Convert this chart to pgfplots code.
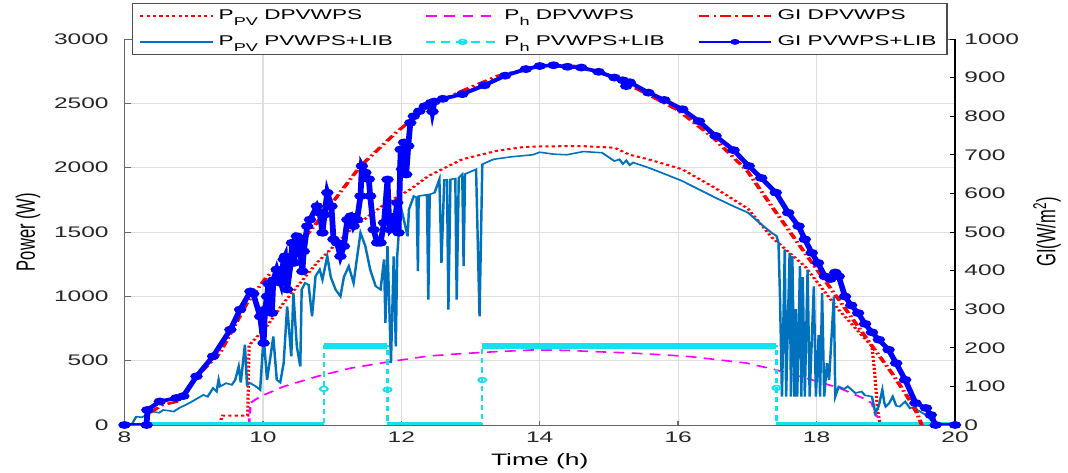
\documentclass[border=0pt]{standalone}
\usepackage{pgfplots}
\pgfplotsset{compat=1.18}
\usepackage{fontspec}
\setmainfont{Liberation Sans}
\definecolor{pvblue}{RGB}{0,114,189}
\definecolor{cyanc}{RGB}{20,225,235}
\definecolor{magc}{RGB}{255,0,255}
\definecolor{gridc}{RGB}{222,222,222}
\newcommand\lsub[1]{\raisebox{-0.42em}{\fontsize{8.5}{8.5}\selectfont #1}}
\pgfplotsset{
 ppvd/.style={red, line width=1.5pt, dash pattern=on 1.5pt off 1.5pt},
 phd/.style={magc, line width=1.2pt, dash pattern=on 5pt off 3.5pt},
 gid/.style={red, line width=1.9pt, dash pattern=on 5pt off 2pt on 1.2pt off 2pt},
 ppvl/.style={pvblue, line width=1.15pt},
 phl/.style={cyanc, line width=1.1pt, dash pattern=on 4pt off 3pt, mark=o, mark size=1.8pt, mark options={solid}},
 gil/.style={blue, line width=2.7pt, mark=*, mark size=1.5pt, mark options={solid}},
}
\begin{document}
\begin{tikzpicture}
\begin{scope}[transform canvas={xscale=1.6}]
\begin{axis}[
 scale only axis, width=389.3pt, height=289.5pt,
 xmin=8, xmax=20, ymin=0, ymax=3000,
 xtick={8,10,...,20}, ytick={0,500,...,3000},
 xtick pos=left, ytick pos=left, tick align=inside,
 major tick length=3pt,
 grid=major, major grid style={gridc, line width=0.6pt},
 axis line style={black!60, line width=0.7pt},
 tick style={black!60, line width=0.7pt},
 ticklabel style={font=\fontsize{11.5}{13}\selectfont, text=black!85},
 /pgf/number format/assume math mode=true, /pgf/number format/1000 sep={},
 yticklabel style={xshift=-3.9pt},
 xticklabel style={yshift=-1.5pt},
 xlabel={Time (h)}, ylabel={Power (W)},
 label style={font=\fontsize{12.4}{14}\selectfont},
 xlabel style={at={(axis description cs:0.5,-0.0933)}, anchor=center},
 ylabel style={at={(axis description cs:-0.1162,0.5)}, anchor=center},
]
% P_PV DPVWPS
\addplot[ppvd] coordinates {(8.0,0)(9.36,0)(9.42,73)(9.78,73)(9.8,620)(10.06,770)(10.3,950)(10.78,1260)(11.27,1519)(11.75,1714)(12.13,1831)(12.39,1935)(12.88,2065)(13.37,2130)(13.76,2160)(14.0,2165)(14.6,2168)(15.08,2155)(15.3,2100)(15.57,2065)(16.06,1987)(16.54,1840)(17.01,1680)(17.35,1460)(17.83,1234)(18.32,896)(18.71,663)(18.8,615)(18.84,400)(18.88,120)(18.92,0)(20,0)};
% P_h DPVWPS
\addplot[phd] coordinates {(9.8,0)(9.82,172)(9.96,221)(10.3,299)(10.78,377)(11.27,442)(11.85,494)(12.39,536)(12.88,555)(13.37,570)(13.9,583)(14.4,580)(14.8,570)(15.3,560)(15.83,544)(16.2,530)(16.98,482)(17.41,429)(17.85,364)(18.33,287)(18.67,209)(18.8,170)(18.85,79)(18.89,60)(18.9,0)};
% P_PV PVWPS+LIB
\addplot[ppvl] coordinates {(8.0,0)(8.1,0)(8.17,65)(8.25,60)(8.32,78)(8.41,104)(8.5,95)(8.56,117)(8.65,110)(8.71,104)(8.8,135)(8.9,160)(9.0,190)(9.14,234)(9.2,220)(9.28,286)(9.33,260)(9.36,351)(9.38,299)(9.47,325)(9.55,312)(9.6,350)(9.65,455)(9.68,330)(9.74,624)(9.77,312)(9.82,325)(9.9,299)(9.96,273)(10.01,688)(10.06,351)(10.11,533)(10.15,688)(10.2,351)(10.25,330)(10.3,481)(10.35,922)(10.41,533)(10.44,1026)(10.49,611)(10.54,455)(10.56,1052)(10.61,1104)(10.66,1090)(10.71,844)(10.76,1156)(10.82,1208)(10.86,1130)(10.93,1311)(10.98,1150)(11.05,1052)(11.12,1000)(11.17,1150)(11.24,1234)(11.31,1104)(11.41,1494)(11.48,1390)(11.55,1208)(11.63,1078)(11.7,1052)(11.75,1286)(11.77,793)(11.8,1390)(11.85,481)(11.89,1311)(11.92,611)(11.94,1311)(11.99,1701)(12.03,1610)(12.09,1467)(12.11,1675)(12.18,1779)(12.22,1770)(12.24,1195)(12.25,1779)(12.37,1790)(12.39,974)(12.41,1792)(12.48,1805)(12.55,1909)(12.58,1260)(12.62,1905)(12.66,1905)(12.68,896)(12.71,1909)(12.78,1915)(12.8,974)(12.83,1922)(12.88,1948)(12.9,1234)(12.92,1950)(13.08,1987)(13.13,844)(13.17,2026)(13.33,2065)(13.6,2085)(13.9,2100)(14.0,2120)(14.2,2105)(14.39,2100)(14.63,2125)(14.9,2116)(15.08,2051)(15.15,2065)(15.2,2030)(15.25,2055)(15.3,2020)(15.35,2040)(15.57,2000)(15.81,1950)(16.06,1896)(16.3,1831)(16.54,1766)(16.8,1700)(17.01,1650)(17.2,1560)(17.35,1494)(17.42,1470)(17.45,1415)(17.47,1026)(17.5,221)(17.54,1364)(17.56,221)(17.61,1338)(17.63,221)(17.65,1312)(17.68,221)(17.7,900)(17.72,221)(17.76,1234)(17.78,221)(17.8,1150)(17.83,221)(17.87,1208)(17.9,221)(17.96,1078)(17.99,221)(18.03,700)(18.05,221)(18.08,1026)(18.11,221)(18.15,480)(18.18,350)(18.25,1000)(18.27,221)(18.32,299)(18.4,280)(18.45,300)(18.56,248)(18.65,260)(18.7,230)(18.8,221)(18.85,92)(18.9,150)(18.95,273)(18.98,170)(19.0,143)(19.05,170)(19.1,221)(19.15,150)(19.2,143)(19.28,182)(19.35,130)(19.42,143)(19.45,118)(19.58,78)(19.65,39)(19.7,13)(19.75,0)(20,0)};
% P_h PVWPS+LIB : band made by dense markers
\addplot[cyanc, line width=5pt, forget plot, unbounded coords=jump] coordinates {(8.33,0)(10.88,0)(10.88,nan)(10.88,615)(11.8,615)(11.8,nan)(11.8,0)(13.17,0)(13.17,nan)(13.17,615)(17.42,615)(17.42,nan)(17.42,0)(20,0)};
\addplot[phl, mark indices={3,6,9,12}, forget plot] coordinates {(8.33,0)(10.88,0)(10.88,280)(10.88,615)(11.8,615)(11.8,275)(11.8,0)(13.17,0)(13.17,350)(13.17,615)(17.42,615)(17.42,288)(17.42,0)(20,0)};
\end{axis}
\begin{axis}[
 scale only axis, width=389.3pt, height=289.5pt,
 xmin=8, xmax=20, ymin=0, ymax=1000,
 axis x line=none, axis y line*=right,
 ytick={0,100,...,1000}, tick align=inside, major tick length=2.5pt,
 axis line style={black, line width=0.7pt},
 tick style={black, line width=0.7pt},
 ticklabel style={font=\fontsize{11.5}{13}\selectfont, text=black!85},
 /pgf/number format/assume math mode=true, /pgf/number format/1000 sep={},
 yticklabel style={xshift=0.9pt},
 ylabel={GI(W/m\textsuperscript{2})},
 label style={font=\fontsize{12.4}{14}\selectfont},
 ylabel style={at={(axis description cs:1.1108,0.5)}, anchor=center},
 legend columns=3,
 legend cell align=left,
 legend image code/.code={\draw[mark repeat=2,mark phase=2,#1] plot coordinates {(0pt,0pt) (17pt,0pt) (34pt,0pt)};},
 legend style={at={(axis description cs:0.5,1.026)}, anchor=center, draw=black!70, line width=0.7pt, fill=white,
   font=\fontsize{10.6}{12}\selectfont, inner sep=3pt, row sep=6.5pt,
   /tikz/every even column/.append style={column sep=13pt}},
]
\addlegendimage{ppvd}
\addlegendentry{P\lsub{PV} DPVWPS}
\addlegendimage{phd}
\addlegendentry{P\lsub{h} DPVWPS}
% GI DPVWPS
\addplot[gid] coordinates {(8.3,0)(8.35,30)(8.55,52)(8.75,60)(8.9,85)(9.0,117)(9.38,187)(9.77,316)(10.06,385)(10.3,420)(10.78,524)(11.41,671)(11.92,757)(12.13,788)(12.4,827)(12.88,866)(13.4,905)(14.0,930)(14.5,930)(15.0,905)(15.5,862)(16.0,815)(16.5,745)(17.0,658)(17.35,567)(17.83,446)(18.32,325)(18.8,205)(19.09,134)(19.31,74)(19.45,31)(19.52,0)};
\addlegendentry{GI DPVWPS}
\addlegendimage{ppvl}
\addlegendentry{P\lsub{PV} PVWPS+LIB}
\addlegendimage{phl}
\addlegendentry{P\lsub{h} PVWPS+LIB}
% GI PVWPS+LIB
\addplot[gil, legend image post style={line width=1.3pt}] coordinates {(8.0,0)(8.32,0)(8.33,39)(8.51,61)(8.75,70)(8.85,75)(9.04,126)(9.28,178)(9.53,247)(9.67,299)(9.82,346)(9.86,340)(9.96,281)(10.01,212)(10.03,299)(10.06,333)(10.08,366)(10.13,290)(10.15,375)(10.2,403)(10.26,368)(10.3,429)(10.32,437)(10.35,351)(10.41,429)(10.42,472)(10.45,420)(10.49,489)(10.52,485)(10.57,398)(10.59,450)(10.64,515)(10.68,532)(10.78,567)(10.82,550)(10.86,498)(10.89,545)(10.93,602)(10.99,567)(11.02,481)(11.07,472)(11.12,437)(11.17,463)(11.22,532)(11.27,541)(11.31,515)(11.36,532)(11.41,593)(11.43,671)(11.48,654)(11.53,637)(11.55,593)(11.6,506)(11.65,472)(11.7,472)(11.75,524)(11.8,636)(11.82,541)(11.84,506)(11.9,520)(11.94,576)(11.96,498)(11.99,714)(12.01,663)(12.04,732)(12.07,649)(12.1,723)(12.13,783)(12.18,800)(12.26,813)(12.34,826)(12.43,835)(12.45,812)(12.48,838)(12.6,845)(12.88,857)(13.2,880)(13.5,905)(13.8,922)(14.0,930)(14.2,932)(14.4,928)(14.6,926)(14.85,915)(15.08,900)(15.2,893)(15.25,878)(15.3,888)(15.57,861)(15.8,842)(16.06,818)(16.3,787)(16.54,749)(16.8,712)(17.02,671)(17.2,640)(17.41,602)(17.59,550)(17.74,515)(17.83,481)(17.93,446)(18.02,420)(18.12,385)(18.2,378)(18.27,395)(18.32,385)(18.41,333)(18.5,310)(18.6,290)(18.7,262)(18.8,240)(18.9,221)(19.04,195)(19.15,160)(19.28,117)(19.43,57)(19.58,44)(19.65,26)(19.72,0)(20,0)};
\addlegendentry{GI PVWPS+LIB}
\end{axis}
\end{scope}
\pgfresetboundingbox
\path[use as bounding box] (-93.375pt,-36pt) rectangle (707.625pt,318.75pt);
\end{tikzpicture}
\end{document}
